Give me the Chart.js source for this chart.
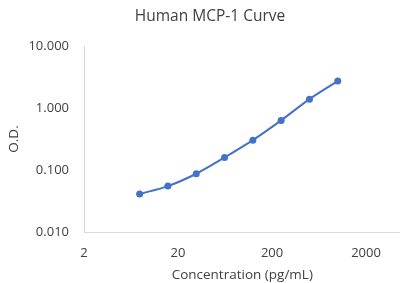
<!DOCTYPE html>
<html>
<head>
<meta charset="utf-8">
<script src="https://cdn.jsdelivr.net/npm/chart.js@4/dist/chart.umd.min.js"></script>
<style>
html,body{margin:0;padding:0;background:#fff;overflow:hidden;}
#wrap{width:400px;height:283px;overflow:hidden;}
</style>
</head>
<body>
<div id="wrap"><canvas id="c" width="404" height="283"></canvas></div>
<script>
const concentrations = [7.8125, 15.625, 31.25, 62.5, 125, 250, 500, 1000];
const odValues = [0.041, 0.055, 0.087, 0.159, 0.303, 0.631, 1.39, 2.72];
const xTickValues = [2, 20, 200, 2000];
const yTickValues = [0.01, 0.1, 1, 10];
const chartTitle = 'Human MCP-1 Curve';
const xTitle = 'Concentration (pg/mL)';
const yTitle = 'O.D.';

const FONT = '"Open Sans", sans-serif';
const TXT = '#404040';

const titlePlugin = {
  id: 'customTitle',
  afterDraw(chart) {
    const ctx = chart.ctx;
    ctx.save();
    ctx.font = '15.5px ' + FONT;
    ctx.fillStyle = TXT;
    ctx.textAlign = 'center';
    ctx.textBaseline = 'middle';
    ctx.fillText(chartTitle, 210, 17);
    ctx.restore();
  }
};

new Chart(document.getElementById('c'), {
  type: 'line',
  data: {
    datasets: [{
      data: concentrations.map((x, i) => ({x: x, y: odValues[i]})),
      borderColor: '#4472C4',
      backgroundColor: '#4472C4',
      borderWidth: 2,
      pointRadius: 3.5,
      pointHoverRadius: 3.5,
      pointBorderWidth: 0,
      tension: 0.3,
      fill: false
    }]
  },
  options: {
    responsive: false,
    animation: false,
    events: [],
    layout: {padding: {top: 46, right: 0, left: 0, bottom: 0}},
    plugins: {legend: {display: false}, tooltip: {enabled: false}, title: {display: false}},
    scales: {
      x: {
        type: 'logarithmic',
        min: 2,
        max: 4650,
        afterBuildTicks(scale) { scale.ticks = xTickValues.map(v => ({value: v})); },
        afterFit(scale) { scale.height = 283 - 232; },
        ticks: {
          color: TXT,
          font: {family: FONT, size: 13},
          padding: 13,
          maxRotation: 0,
          autoSkip: false,
          callback: (v) => String(v)
        },
        grid: {display: false, drawTicks: false},
        border: {display: true, color: '#d9d9d9', width: 1},
        title: {display: true, text: xTitle, color: TXT, font: {family: FONT, size: 13.5}, padding: {top: 1, bottom: 0}}
      },
      y: {
        type: 'logarithmic',
        min: 0.01,
        max: 10,
        afterBuildTicks(scale) { scale.ticks = yTickValues.map(v => ({value: v})); },
        afterFit(scale) { scale.width = 84; },
        ticks: {
          color: TXT,
          font: {family: FONT, size: 13},
          padding: 15,
          autoSkip: false,
          callback: (v) => Number(v).toFixed(3)
        },
        grid: {display: false, drawTicks: false},
        border: {display: true, color: '#d9d9d9', width: 1},
        title: {display: true, text: yTitle, color: TXT, font: {family: FONT, size: 13.5}, padding: {top: 6, bottom: 0}}
      }
    }
  },
  plugins: [titlePlugin]
});
</script>
</body>
</html>
